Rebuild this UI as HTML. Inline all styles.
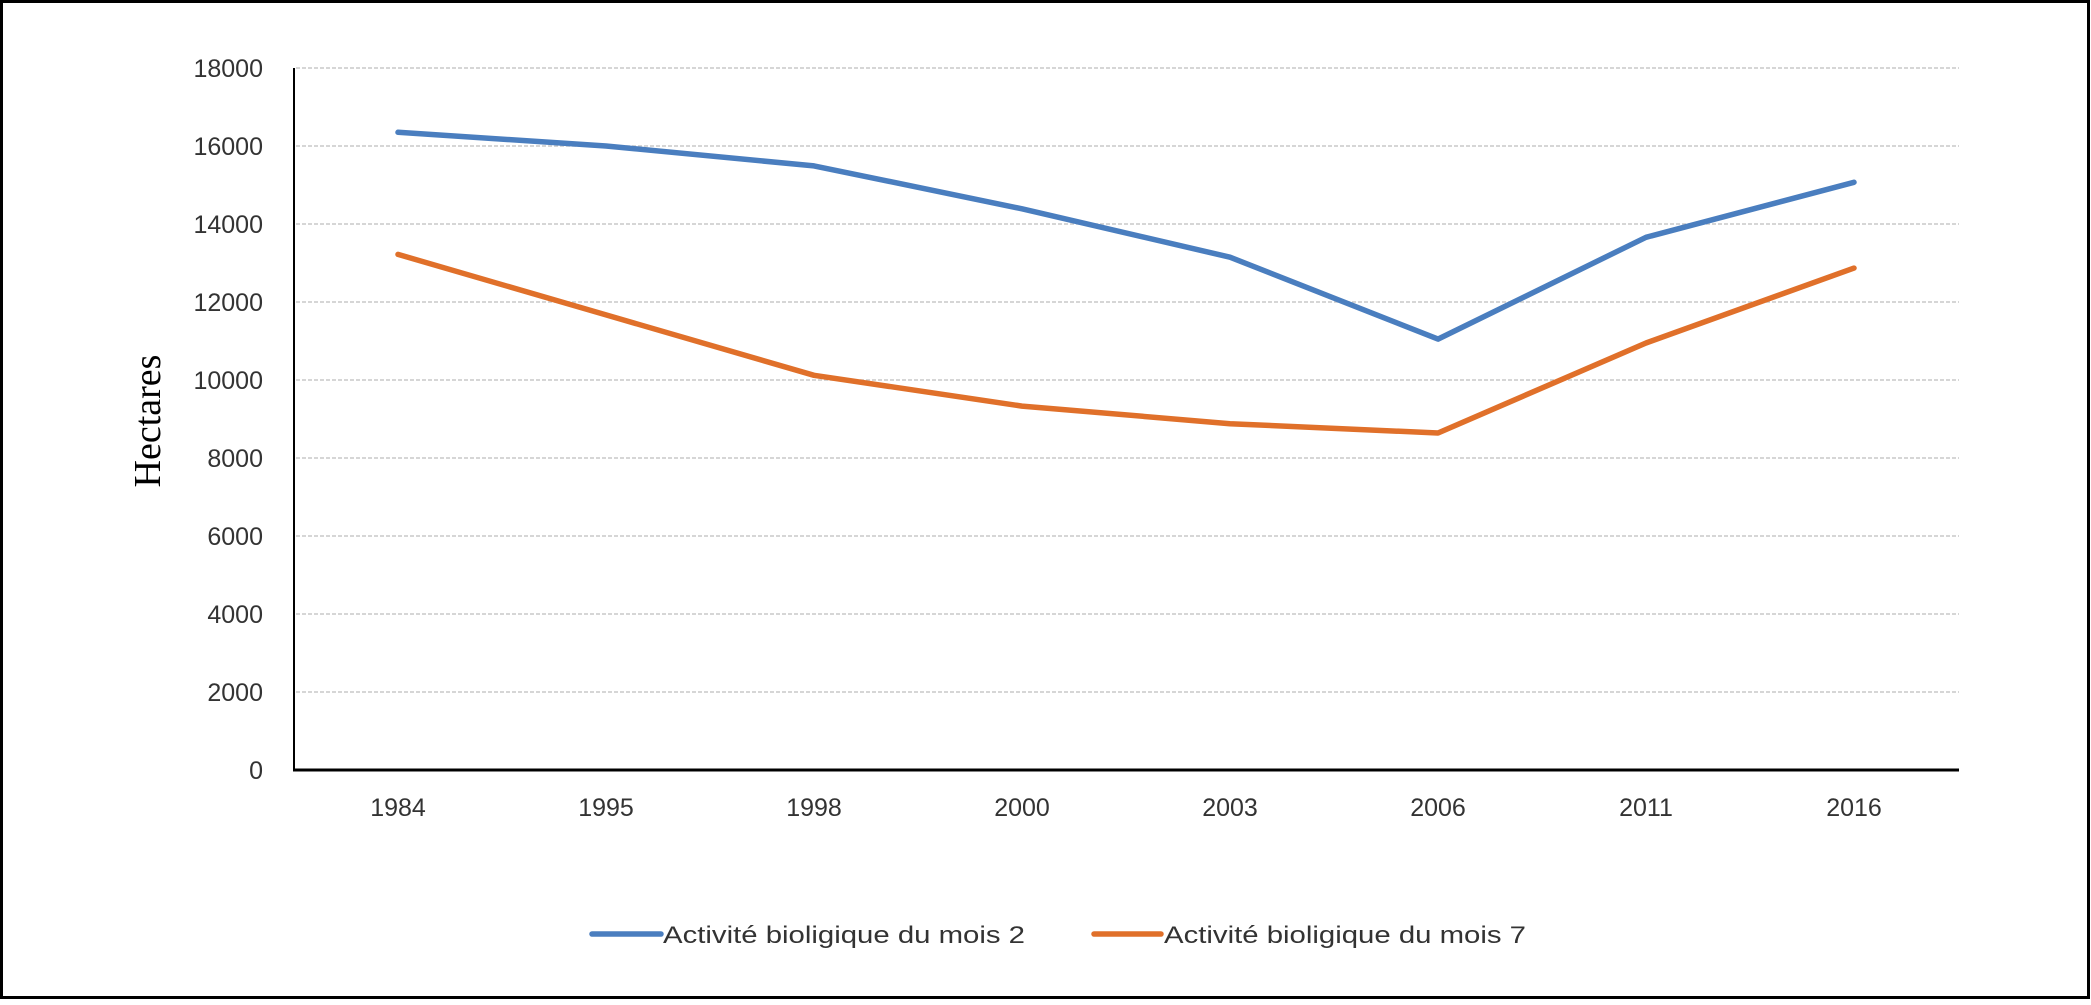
<!DOCTYPE html>
<html><head><meta charset="utf-8"><style>html,body{margin:0;padding:0;background:#fff}</style></head>
<body>
<svg width="2091" height="1000" xmlns="http://www.w3.org/2000/svg" font-family="Liberation Sans, sans-serif">
<rect x="1.5" y="1.5" width="2087" height="996" fill="#fff" stroke="#000" stroke-width="3"/>
<g stroke="#c8c8c8" stroke-width="1.5" stroke-dasharray="4,2">
<line x1="296" y1="68" x2="1959" y2="68"/><line x1="296" y1="146" x2="1959" y2="146"/>
<line x1="296" y1="224" x2="1959" y2="224"/><line x1="296" y1="302" x2="1959" y2="302"/>
<line x1="296" y1="380" x2="1959" y2="380"/><line x1="296" y1="458" x2="1959" y2="458"/>
<line x1="296" y1="536" x2="1959" y2="536"/><line x1="296" y1="614" x2="1959" y2="614"/>
<line x1="296" y1="692" x2="1959" y2="692"/>
</g>
<line x1="294" y1="68" x2="294" y2="771" stroke="#000" stroke-width="2"/>
<line x1="293" y1="770" x2="1959" y2="770" stroke="#000" stroke-width="3"/>
<g font-size="25" fill="#333" text-anchor="end">
<text x="263" y="77">18000</text><text x="263" y="155">16000</text><text x="263" y="233">14000</text>
<text x="263" y="311">12000</text><text x="263" y="389">10000</text><text x="263" y="467">8000</text>
<text x="263" y="545">6000</text><text x="263" y="623">4000</text><text x="263" y="701">2000</text>
<text x="263" y="779">0</text>
</g>
<g font-size="25" fill="#333" text-anchor="middle">
<text x="398" y="816">1984</text><text x="606" y="816">1995</text><text x="814" y="816">1998</text>
<text x="1022" y="816">2000</text><text x="1230" y="816">2003</text><text x="1438" y="816">2006</text>
<text x="1646" y="816">2011</text><text x="1854" y="816">2016</text>
</g>
<text transform="translate(160,421) rotate(-90)" text-anchor="middle" font-family="Liberation Serif, serif" font-size="38" fill="#000">Hectares</text>
<polyline fill="none" stroke="#4a7ebf" stroke-width="5.5" stroke-linejoin="round" stroke-linecap="round" points="398,132.3 606,146 814,165.9 1022,208.8 1230,257.2 1438,339.1 1646,237.3 1854,182.3"/>
<polyline fill="none" stroke="#e0702a" stroke-width="5.5" stroke-linejoin="round" stroke-linecap="round" points="398,254.4 606,314.9 814,375.3 1022,406.1 1230,423.7 1438,433 1646,343 1854,268.1"/>
<line x1="592" y1="934" x2="661" y2="934" stroke="#4a7ebf" stroke-width="5.5" stroke-linecap="round"/>
<text x="663" y="943" font-size="24" fill="#333" textLength="362" lengthAdjust="spacingAndGlyphs">Activité bioligique du mois 2</text>
<line x1="1094" y1="934" x2="1161" y2="934" stroke="#e0702a" stroke-width="5.5" stroke-linecap="round"/>
<text x="1164" y="943" font-size="24" fill="#333" textLength="362" lengthAdjust="spacingAndGlyphs">Activité bioligique du mois 7</text>
</svg>
</body></html>
